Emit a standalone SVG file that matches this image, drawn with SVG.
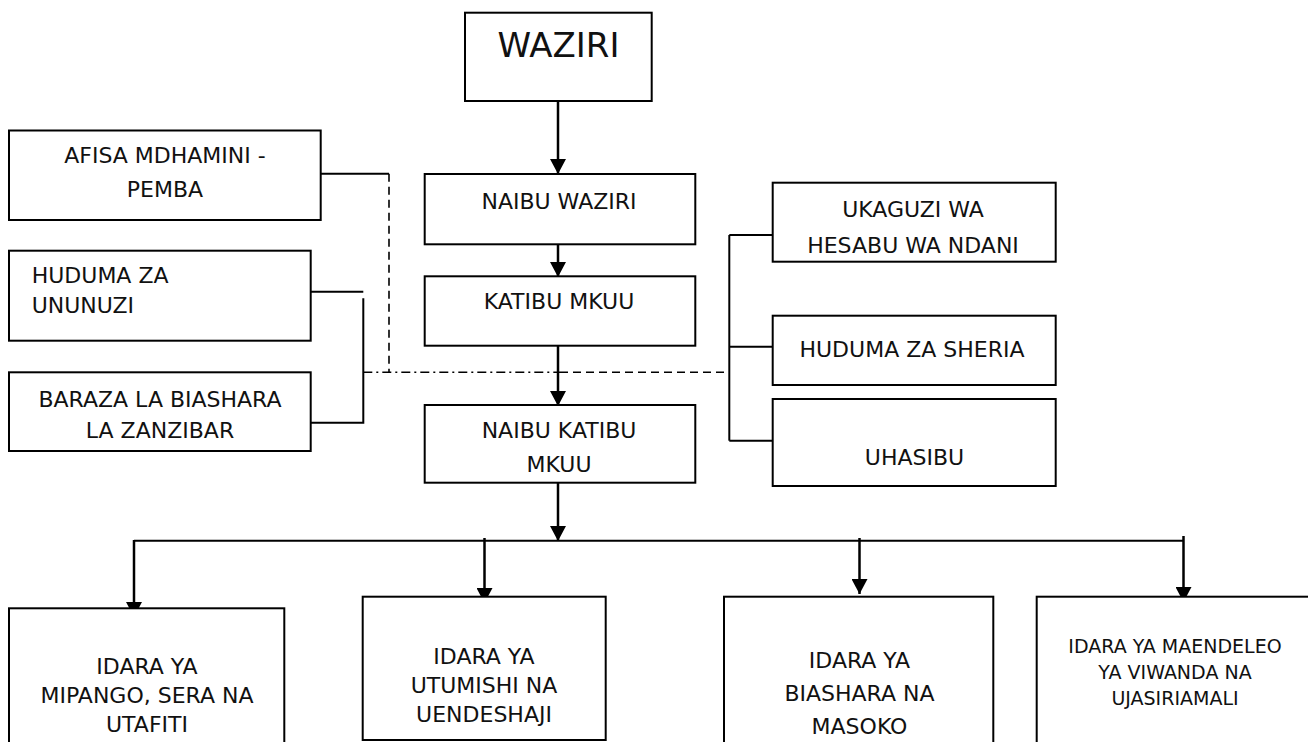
<svg xmlns="http://www.w3.org/2000/svg" width="1308" height="742" viewBox="0 0 1308 742">
<style>
.box{fill:#fff;stroke:#000;stroke-width:2}
text{font-family:"DejaVu Sans","Liberation Sans",sans-serif;font-size:22px;fill:#111}
.c{text-anchor:middle}
.big{font-size:34px}
.sm{font-size:19px}
.arr{stroke:#000;stroke-width:2.5;fill:none;marker-end:url(#ah)}
.ln{stroke:#000;stroke-width:2;fill:none}
.dash{stroke:#000;stroke-width:1.6;fill:none;stroke-dasharray:8 5}
.dashdot{stroke:#000;stroke-width:1.6;fill:none;stroke-dasharray:9 4 2 4}
</style>
<defs>
<marker id="ah" markerUnits="userSpaceOnUse" markerWidth="16" markerHeight="16" refX="15" refY="8" orient="auto" viewBox="0 0 16 16">
<path d="M0,0 L15,8 L0,16 z" fill="#000"/>
</marker>
</defs>
<rect width="1308" height="742" fill="#fff"/>
<g id="connectors">
<line class="arr" x1="558" y1="101" x2="558" y2="174"/>
<line class="arr" x1="558" y1="244" x2="558" y2="277"/>
<line class="arr" x1="558" y1="346" x2="558" y2="406"/>
<line class="arr" x1="558" y1="477" x2="558" y2="541"/>
<line class="ln" x1="134" y1="540.7" x2="1184" y2="540.7"/>
<line class="arr" x1="134" y1="540" x2="134" y2="617"/>
<line class="arr" x1="484.5" y1="538" x2="484.5" y2="603"/>
<line class="arr" x1="859.5" y1="538" x2="859.5" y2="594"/>
<line class="arr" x1="1183.5" y1="536" x2="1183.5" y2="602"/>
<polyline class="ln" points="320.7,173.7 389,173.7"/>
<line class="dash" x1="389" y1="173.7" x2="389" y2="372.3"/>
<polyline class="ln" points="310.7,291.7 363.3,291.7"/>
<polyline class="ln" points="363.3,298.3 363.3,422.7 310.7,422.7"/>
<line class="dashdot" x1="363.3" y1="372.3" x2="560" y2="372.3"/>
<line class="dash" x1="560" y1="372.3" x2="729.3" y2="372.3"/>
<line class="ln" x1="729.3" y1="235" x2="729.3" y2="440.7"/>
<line class="ln" x1="729.3" y1="235" x2="777" y2="235"/>
<line class="ln" x1="729.3" y1="346.7" x2="777" y2="346.7"/>
<line class="ln" x1="729.3" y1="440.7" x2="777" y2="440.7"/>
</g>
<g id="waziri">
<rect class="box" x="465" y="12.7" width="186.7" height="88.3"/>
<text class="c big" x="558.5" y="57">WAZIRI</text>
</g>
<g id="naibu-waziri">
<rect class="box" x="424.7" y="174" width="270.6" height="70.3"/>
<text class="c" x="559" y="209.3">NAIBU WAZIRI</text>
</g>
<g id="katibu-mkuu">
<rect class="box" x="424.7" y="276.3" width="270.6" height="69.4"/>
<text class="c" x="559" y="309.3">KATIBU MKUU</text>
</g>
<g id="naibu-katibu-mkuu">
<rect class="box" x="424.7" y="405" width="270.6" height="77.7"/>
<text class="c" x="559" y="438.3">NAIBU KATIBU</text>
<text class="c" x="559" y="471.7">MKUU</text>
</g>
<g id="afisa-mdhamini">
<rect class="box" x="9" y="130.5" width="311.7" height="89.5"/>
<text class="c" x="165" y="163">AFISA MDHAMINI -</text>
<text class="c" x="165" y="196.7">PEMBA</text>
</g>
<g id="huduma-ununuzi">
<rect class="box" x="9" y="250.7" width="301.7" height="90"/>
<text x="31.7" y="283.3">HUDUMA ZA</text>
<text x="31.7" y="312.7">UNUNUZI</text>
</g>
<g id="baraza-biashara">
<rect class="box" x="9" y="372.3" width="301.7" height="78.7"/>
<text class="c" x="160" y="406.7">BARAZA LA BIASHARA</text>
<text class="c" x="160" y="438.3">LA ZANZIBAR</text>
</g>
<g id="ukaguzi">
<rect class="box" x="772.7" y="182.7" width="283" height="79"/>
<text class="c" x="913" y="217">UKAGUZI WA</text>
<text class="c" x="913" y="253">HESABU WA NDANI</text>
</g>
<g id="huduma-sheria">
<rect class="box" x="772.7" y="315.7" width="283" height="69.3"/>
<text class="c" x="912" y="357.3">HUDUMA ZA SHERIA</text>
</g>
<g id="uhasibu">
<rect class="box" x="772.7" y="399" width="283" height="87"/>
<text class="c" x="914.5" y="465">UHASIBU</text>
</g>
<g id="idara-mipango">
<rect class="box" x="9" y="608.3" width="275.3" height="140"/>
<text class="c" x="147" y="674">IDARA YA</text>
<text class="c" x="147" y="703">MIPANGO, SERA NA</text>
<text class="c" x="147" y="732">UTAFITI</text>
</g>
<g id="idara-utumishi">
<rect class="box" x="362.7" y="596.7" width="243" height="143.3"/>
<text class="c" x="484" y="664">IDARA YA</text>
<text class="c" x="484" y="693">UTUMISHI NA</text>
<text class="c" x="484" y="722">UENDESHAJI</text>
</g>
<g id="idara-biashara">
<rect class="box" x="724" y="596.7" width="269.3" height="150"/>
<text class="c" x="859.5" y="668">IDARA YA</text>
<text class="c" x="859.5" y="701">BIASHARA NA</text>
<text class="c" x="859.5" y="734">MASOKO</text>
</g>
<g id="idara-maendeleo">
<rect class="box" x="1036.7" y="596.7" width="275" height="150"/>
<text class="c sm" x="1175" y="653.3">IDARA YA MAENDELEO</text>
<text class="c sm" x="1175" y="679.3">YA VIWANDA NA</text>
<text class="c sm" x="1175" y="705">UJASIRIAMALI</text>
</g>
</svg>
